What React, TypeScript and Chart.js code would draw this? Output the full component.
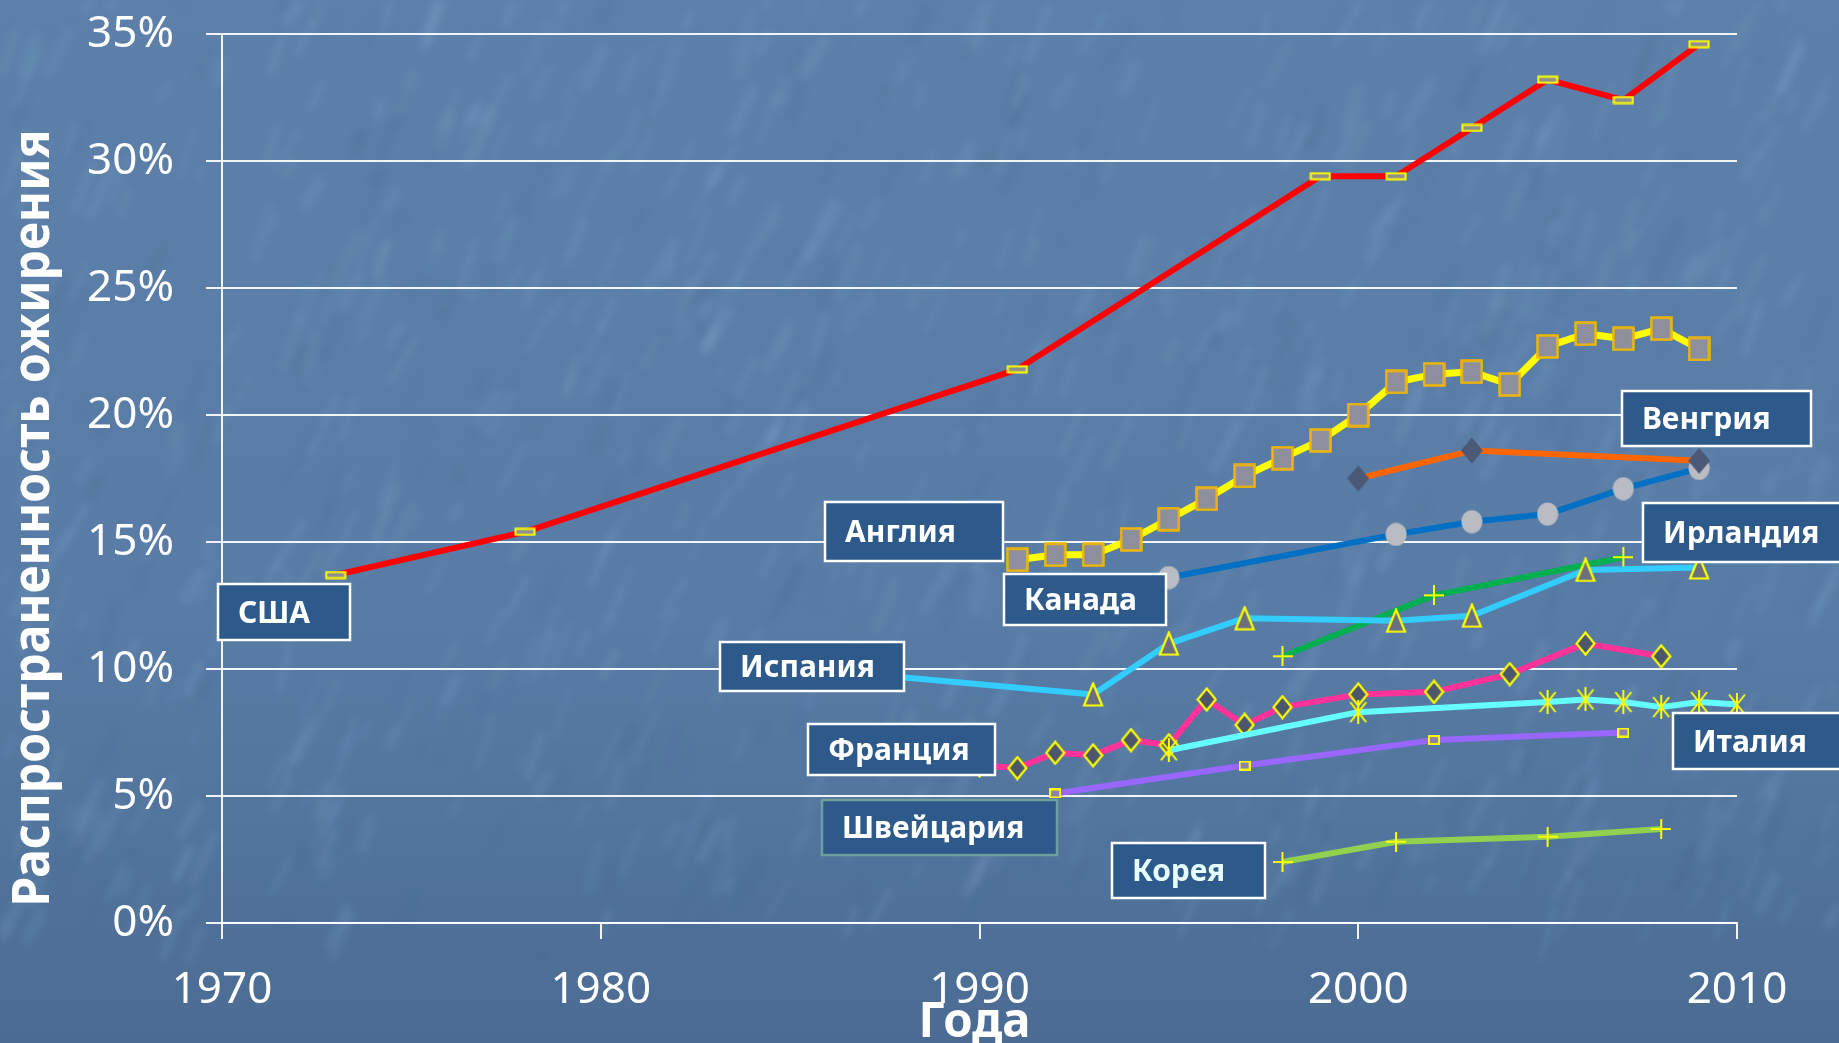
import React, { useEffect, useRef } from "react";
import { Chart, registerables } from "chart.js";

Chart.register(...registerables);

const WIDTH = 1839;
const HEIGHT = 1043;

// Obesity prevalence (% of adults) by survey year
const usaYears = [1973, 1978, 1991, 1999, 2001, 2003, 2005, 2007, 2009];
const usaRates = [13.7, 15.4, 21.8, 29.4, 29.4, 31.3, 33.2, 32.4, 34.6];

const englandYears = [1991, 1992, 1993, 1994, 1995, 1996, 1997, 1998, 1999, 2000, 2001, 2002, 2003, 2004, 2005, 2006, 2007, 2008, 2009];
const englandRates = [14.3, 14.5, 14.5, 15.1, 15.9, 16.7, 17.6, 18.3, 19.0, 20.0, 21.3, 21.6, 21.7, 21.2, 22.7, 23.2, 23.0, 23.4, 22.6];

const hungaryYears = [2000, 2003, 2009];
const hungaryRates = [17.5, 18.6, 18.2];

const canadaYears = [1995, 2001, 2003, 2005, 2007, 2009];
const canadaRates = [13.6, 15.3, 15.8, 16.1, 17.1, 17.9];

const irelandYears = [1998, 2002, 2007];
const irelandRates = [10.5, 12.9, 14.4];

const spainYears = [1987, 1993, 1995, 1997, 2001, 2003, 2006, 2009];
const spainRates = [9.8, 9.0, 11.0, 12.0, 11.9, 12.1, 13.9, 14.0];

const franceYears = [1990, 1991, 1992, 1993, 1994, 1995, 1996, 1997, 1998, 2000, 2002, 2004, 2006, 2008];
const franceRates = [6.2, 6.1, 6.7, 6.6, 7.2, 7.0, 8.8, 7.8, 8.5, 9.0, 9.1, 9.8, 11.0, 10.5];

const italyYears = [1995, 2000, 2005, 2006, 2007, 2008, 2009, 2010];
const italyRates = [6.8, 8.3, 8.7, 8.8, 8.7, 8.5, 8.7, 8.6];

const swissYears = [1992, 1997, 2002, 2007];
const swissRates = [5.1, 6.2, 7.2, 7.5];

const koreaYears = [1998, 2001, 2005, 2008];
const koreaRates = [2.4, 3.2, 3.4, 3.7];

// Axis ticks and titles
const yearTicks = [1970, 1980, 1990, 2000, 2010];
const rateTicks = [0, 5, 10, 15, 20, 25, 30, 35];
const yTitle = "Распространенность ожирения";
const xTitle = "Года";

// Country name boxes: anchored at their top-left corner in data units (year, %)
const countryNames = ["США", "Англия", "Канада", "Испания", "Франция", "Швейцария", "Корея", "Венгрия", "Ирландия", "Италия"];
const nameBoxLayout = [
  { year: 1969.9, rate: 13.33, w: 132, h: 56, border: "#ffffff", text: "#ffffff" },
  { year: 1985.91, rate: 16.56, w: 178, h: 59, border: "#ffffff", text: "#ffffff" },
  { year: 1990.64, rate: 13.74, w: 162, h: 51, border: "#ffffff", text: "#ffffff" },
  { year: 1983.14, rate: 11.07, w: 184, h: 49, border: "#ffffff", text: "#ffffff" },
  { year: 1985.46, rate: 7.82, w: 187, h: 51, border: "#ffffff", text: "#ffffff" },
  { year: 1985.83, rate: 4.84, w: 235, h: 55, border: "#6f9f9c", text: "#ffffff" },
  { year: 1993.5, rate: 3.15, w: 153, h: 55, border: "#ffffff", text: "#e6ffff" },
  { year: 2006.96, rate: 20.94, w: 189, h: 55, border: "#ffffff", text: "#ffffff" },
  { year: 2007.52, rate: 16.55, w: 210, h: 59, border: "#ffffff", text: "#ffffff" },
  { year: 2008.32, rate: 8.26, w: 180, h: 56, border: "#ffffff", text: "#ffffff" },
];

const toPoints = (xs: number[], ys: number[]) => xs.map((x, i) => ({ x, y: ys[i] }));

function makeMarker(w: number, h: number, paint: (ctx: CanvasRenderingContext2D) => void) {
  const c = document.createElement("canvas");
  c.width = w;
  c.height = h;
  const ctx = c.getContext("2d") as CanvasRenderingContext2D;
  paint(ctx);
  return c;
}

function buildMarkers() {
  const yellow = "#ffff00";
  const usa = makeMarker(22, 9, (ctx) => {
    ctx.fillStyle = "#8f8f8f";
    ctx.fillRect(1.5, 1.5, 19, 6);
    ctx.strokeStyle = yellow;
    ctx.lineWidth = 2;
    ctx.strokeRect(1.5, 1.5, 19, 6);
  });
  const england = makeMarker(23, 25, (ctx) => {
    ctx.fillStyle = "#8d8f9c";
    ctx.fillRect(1.5, 1.5, 20, 22);
    ctx.strokeStyle = "#f2b705";
    ctx.lineWidth = 2.5;
    ctx.strokeRect(1.5, 1.5, 20, 22);
  });
  const hungary = makeMarker(24, 28, (ctx) => {
    ctx.beginPath();
    ctx.moveTo(12, 1);
    ctx.lineTo(23, 14);
    ctx.lineTo(12, 27);
    ctx.lineTo(1, 14);
    ctx.closePath();
    ctx.fillStyle = "#4b5876";
    ctx.fill();
  });
  const canada = makeMarker(22, 24, (ctx) => {
    ctx.beginPath();
    ctx.ellipse(11, 12, 10.5, 11.5, 0, 0, Math.PI * 2);
    ctx.fillStyle = "#b9bcc3";
    ctx.fill();
  });
  const plus = makeMarker(20, 20, (ctx) => {
    ctx.strokeStyle = yellow;
    ctx.lineWidth = 2;
    ctx.beginPath();
    ctx.moveTo(10, 0);
    ctx.lineTo(10, 20);
    ctx.moveTo(0, 10);
    ctx.lineTo(20, 10);
    ctx.stroke();
  });
  const spain = makeMarker(22, 25, (ctx) => {
    ctx.beginPath();
    ctx.moveTo(11, 1.5);
    ctx.lineTo(20, 23.5);
    ctx.lineTo(2, 23.5);
    ctx.closePath();
    ctx.fillStyle = "#6b6f7f";
    ctx.fill();
    ctx.strokeStyle = yellow;
    ctx.lineWidth = 2.2;
    ctx.stroke();
  });
  const france = makeMarker(21, 25, (ctx) => {
    ctx.beginPath();
    ctx.moveTo(10.5, 1.5);
    ctx.lineTo(19.5, 12.5);
    ctx.lineTo(10.5, 23.5);
    ctx.lineTo(1.5, 12.5);
    ctx.closePath();
    ctx.fillStyle = "#4d576b";
    ctx.fill();
    ctx.strokeStyle = yellow;
    ctx.lineWidth = 2.2;
    ctx.stroke();
  });
  const italy = makeMarker(20, 24, (ctx) => {
    ctx.strokeStyle = yellow;
    ctx.lineWidth = 2;
    ctx.beginPath();
    ctx.moveTo(10, 0);
    ctx.lineTo(10, 24);
    ctx.moveTo(2, 2);
    ctx.lineTo(18, 22);
    ctx.moveTo(18, 2);
    ctx.lineTo(2, 22);
    ctx.stroke();
  });
  const swiss = makeMarker(12, 10, (ctx) => {
    ctx.fillStyle = "#8c84a6";
    ctx.fillRect(1, 1, 10, 8);
    ctx.strokeStyle = yellow;
    ctx.lineWidth = 2;
    ctx.strokeRect(1, 1, 10, 8);
  });
  return { usa, england, hungary, canada, plus, spain, france, italy, swiss };
}

// Small deterministic generator for the marbled backdrop
function streakSequence(seed: number) {
  let s = seed >>> 0;
  return () => {
    s = (s * 1664525 + 1013904223) >>> 0;
    return s / 4294967296;
  };
}

// Paints the mottled streak layer once onto its own canvas
function buildTexture(width: number, height: number) {
  const c = document.createElement("canvas");
  c.width = width;
  c.height = height;
  const ctx = c.getContext("2d") as CanvasRenderingContext2D;
  const rnd = streakSequence(20100);
  ctx.lineCap = "round";
  for (let i = 0; i < 1000; i++) {
    const x = rnd() * width;
    const y = rnd() * height * 0.92;
    const len = 10 + rnd() * 45;
    const ang = -1.0 - rnd() * 0.3;
    const light = rnd() > 0.3;
    ctx.strokeStyle = light
      ? `rgba(160,195,232,${0.05 + rnd() * 0.06})`
      : `rgba(50,80,120,${0.03 + rnd() * 0.05})`;
    ctx.lineWidth = 5 + rnd() * 9;
    ctx.beginPath();
    ctx.moveTo(x, y);
    ctx.lineTo(x + Math.cos(ang) * len, y + Math.sin(ang) * len);
    ctx.stroke();
  }
  return c;
}

const FONT = "'Noto Sans', 'DejaVu Sans', sans-serif";

export default function App() {
  const canvasRef = useRef<HTMLCanvasElement | null>(null);

  useEffect(() => {
    document.body.style.margin = "0";
    document.body.style.background = "#527599";
    const canvas = canvasRef.current;
    if (!canvas) return;
    const m = buildMarkers();
    const texture = buildTexture(WIDTH, HEIGHT);

    const series = (
      label: string,
      xs: number[],
      ys: number[],
      color: string,
      marker: HTMLCanvasElement,
      width = 6
    ) => ({
      label,
      data: toPoints(xs, ys),
      borderColor: color,
      backgroundColor: color,
      borderWidth: width,
      borderJoinStyle: "round" as const,
      pointStyle: marker,
      pointRadius: 6,
      pointHoverRadius: 6,
      tension: 0,
      fill: false,
      clip: false as const,
    });

    const backdrop = {
      id: "backdrop",
      beforeDraw(chart: any) {
        const { ctx, width, height } = chart;
        ctx.save();
        const g = ctx.createLinearGradient(0, 0, 0, height);
        g.addColorStop(0, "#5c80a9");
        g.addColorStop(0.6, "#587ca5");
        g.addColorStop(0.88, "#4f7199");
        g.addColorStop(1, "#4b6b92");
        ctx.fillStyle = g;
        ctx.fillRect(0, 0, width, height);
        ctx.filter = "blur(3px)";
        ctx.drawImage(texture, 0, 0);
        ctx.filter = "none";
        ctx.restore();
      },
    };

    const titles = {
      id: "titles",
      afterDraw(chart: any) {
        const { ctx, chartArea } = chart;
        ctx.save();
        ctx.fillStyle = "#ffffff";
        // vertical axis title, reading bottom to top
        ctx.font = `bold 52px ${FONT}`;
        const tw = ctx.measureText(yTitle).width;
        ctx.translate(49, 518);
        ctx.rotate(-Math.PI / 2);
        ctx.scale(777 / tw, 1);
        ctx.textAlign = "center";
        ctx.textBaseline = "alphabetic";
        ctx.fillText(yTitle, 0, 0);
        ctx.restore();

        ctx.save();
        ctx.fillStyle = "#ffffff";
        ctx.font = `bold 48px ${FONT}`;
        const xw = ctx.measureText(xTitle).width;
        ctx.translate((chartArea.left + chartArea.right) / 2 - 5, 1037);
        ctx.scale(112 / xw, 1);
        ctx.textAlign = "center";
        ctx.textBaseline = "alphabetic";
        ctx.fillText(xTitle, 0, 0);
        ctx.restore();
      },
    };

    const nameBoxes = {
      id: "nameBoxes",
      afterDatasetsDraw(chart: any) {
        const { ctx } = chart;
        const xs = chart.scales.x;
        const ys = chart.scales.y;
        ctx.save();
        countryNames.forEach((name, i) => {
          const b = nameBoxLayout[i];
          const left = Math.round(xs.getPixelForValue(b.year));
          const top = Math.round(ys.getPixelForValue(b.rate));
          ctx.fillStyle = "#2d5a8a";
          ctx.fillRect(left, top, b.w, b.h);
          ctx.strokeStyle = b.border;
          ctx.lineWidth = 2.5;
          ctx.strokeRect(left, top, b.w, b.h);
          ctx.fillStyle = b.text;
          ctx.font = `bold 30px ${FONT}`;
          ctx.textAlign = "left";
          ctx.textBaseline = "alphabetic";
          ctx.fillText(name, left + 20, top + b.h / 2 + (0.714 * 30) / 2);
        });
        ctx.restore();
      },
    };

    const axisColor = "rgba(255,255,255,0.92)";

    const chart = new Chart(canvas, {
      type: "line",
      data: {
        datasets: [
          series("Венгрия", hungaryYears, hungaryRates, "#ff6600", m.hungary),
          series("Канада", canadaYears, canadaRates, "#0070c4", m.canada),
          series("США", usaYears, usaRates, "#ff0000", m.usa),
          series("Англия", englandYears, englandRates, "#ffff00", m.england, 7),
          series("Италия", italyYears, italyRates, "#66ffff", m.italy),
          series("Франция", franceYears, franceRates, "#ff3399", m.france),
          series("Испания", spainYears, spainRates, "#33ccff", m.spain),
          series("Ирландия", irelandYears, irelandRates, "#00b050", m.plus),
          series("Швейцария", swissYears, swissRates, "#9966ff", m.swiss),
          series("Корея", koreaYears, koreaRates, "#92d050", m.plus),
        ],
      },
      options: {
        responsive: false,
        animation: false,
        devicePixelRatio: 1,
        layout: { autoPadding: false, padding: { top: 34, right: 102, left: 0, bottom: 0 } },
        plugins: {
          legend: { display: false },
          tooltip: { enabled: false },
        },
        events: [],
        scales: {
          x: {
            type: "linear",
            min: 1970,
            max: 2010,
            afterFit(scale: any) {
              scale.height = 120;
            },
            afterBuildTicks(scale: any) {
              scale.ticks = yearTicks.map((v) => ({ value: v }));
            },
            ticks: {
              callback: (v: any) => String(v),
              color: "#ffffff",
              font: { family: FONT, size: 44 },
              padding: 25,
              maxRotation: 0,
              autoSkip: false,
            },
            grid: {
              drawOnChartArea: false,
              drawTicks: true,
              tickLength: 16,
              color: axisColor,
              lineWidth: 2,
            },
            border: { display: true, color: axisColor, width: 2 },
          },
          y: {
            type: "linear",
            min: 0,
            max: 35,
            afterFit(scale: any) {
              scale.width = 222;
              scale.paddingTop = 0;
            },
            afterBuildTicks(scale: any) {
              scale.ticks = rateTicks.map((v) => ({ value: v }));
            },
            ticks: {
              callback: (v: any) => `${v}%`,
              color: "#ffffff",
              font: { family: FONT, size: 44 },
              padding: 32,
              autoSkip: false,
            },
            grid: {
              drawTicks: true,
              tickLength: 16,
              color: axisColor,
              lineWidth: 2,
            },
            border: { display: true, color: axisColor, width: 2 },
          },
        },
      },
      plugins: [backdrop, nameBoxes, titles],
    } as any);

    return () => chart.destroy();
  }, []);

  return (
    <div style={{ width: WIDTH, height: HEIGHT, overflow: "hidden" }}>
      <canvas ref={canvasRef} width={WIDTH} height={HEIGHT} style={{ display: "block" }} />
    </div>
  );
}
